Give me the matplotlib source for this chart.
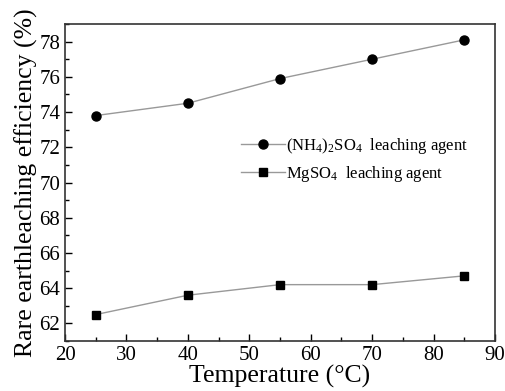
import matplotlib
matplotlib.use("Agg")
import matplotlib.pyplot as plt
from matplotlib.ticker import MultipleLocator

temperature = [25, 40, 55, 70, 85]
nh4_eff = [73.8, 74.5, 75.9, 77.0, 78.1]
mg_eff = [62.5, 63.6, 64.2, 64.2, 64.7]
label_nh4 = r"(NH$_4$)$_2$SO$_4$  leaching agent"
label_mg = r"MgSO$_4$  leaching agent"

plt.rcParams['font.family'] = ['Liberation Serif', 'DejaVu Serif']
plt.rcParams['mathtext.fontset'] = 'custom'
plt.rcParams['mathtext.rm'] = 'Liberation Serif'
plt.rcParams['mathtext.it'] = 'Liberation Serif:italic'

fig = plt.figure(figsize=(5.05, 3.91), dpi=100)
ax = fig.add_axes([65/505, 1-341/391, 430/505, 317/391])

ax.plot(temperature, nh4_eff, color='#999999', lw=1.0, marker='o', ms=6.5,
        mfc='black', mec='black', label=label_nh4)
ax.plot(temperature, mg_eff, color='#999999', lw=1.0, marker='s', ms=6,
        mfc='black', mec='black', label=label_mg)

ax.set_xlim(20, 90)
ax.set_ylim(61, 79)
ax.xaxis.set_major_locator(MultipleLocator(10))
ax.xaxis.set_minor_locator(MultipleLocator(5))
ax.yaxis.set_major_locator(MultipleLocator(2))
ax.yaxis.set_minor_locator(MultipleLocator(1))
ax.tick_params(which='both', direction='in', labelsize=15)
ax.tick_params(which='major', length=5, width=1)
ax.tick_params(which='minor', length=3, width=1)
for s in ax.spines.values():
    s.set_linewidth(1.2)
    s.set_color('#333333')

ax.set_xlabel("Temperature (°C)", fontsize=18.5, labelpad=0)
ax.set_ylabel("Rare earthleaching efficiency (%)", fontsize=18.5, labelpad=1)

ax.legend(loc='center left', bbox_to_anchor=(0.375, 0.572), frameon=False,
          fontsize=12, handlelength=2.6, handletextpad=0.1, labelspacing=0.5)

fig.savefig("out.png", dpi=100)
